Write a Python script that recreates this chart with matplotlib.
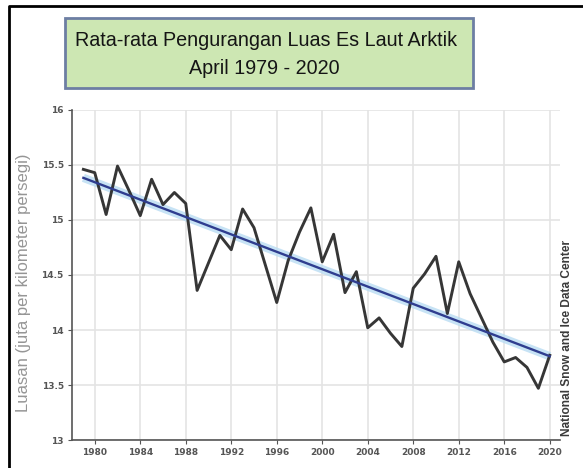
import numpy as np
import matplotlib.pyplot as plt
from matplotlib.patches import Rectangle
from matplotlib.lines import Line2D

# April sea ice extent, million km^2
years = list(range(1979, 2021))
extent = [15.46, 15.43, 15.05, 15.49, 15.27, 15.04, 15.37, 15.14, 15.25, 15.15,
          14.36, 14.61, 14.86, 14.73, 15.10, 14.93, 14.59, 14.25, 14.63, 14.89,
          15.11, 14.62, 14.87, 14.34, 14.53, 14.02, 14.11, 13.97, 13.85, 14.38,
          14.51, 14.67, 14.15, 14.62, 14.33, 14.11, 13.89, 13.71, 13.75, 13.66,
          13.47, 13.77]
xticks = list(range(1980, 2021, 4))
yticks = [13, 13.5, 14, 14.5, 15, 15.5, 16]
ytick_labels = ['13', '13.5', '14', '14.5', '15', '15.5', '16']

sans = ['Liberation Sans', 'DejaVu Sans']

fig = plt.figure(figsize=(5.83, 4.68), dpi=100)
ax = fig.add_axes([0.1235, 0.0598, 0.837, 0.7052])

ax.plot(years, extent, c='#363636', lw=2.1, zorder=3)

# linear trend with a soft halo
coef = np.polyfit(years, extent, 1)
trend = np.polyval(coef, [years[0], years[-1]])
ax.plot([years[0], years[-1]], trend, c='#b9dcf3', lw=6, alpha=0.8, zorder=2,
        solid_capstyle='butt')
ax.plot([years[0], years[-1]], trend, c='#2f3d8f', lw=1.7, zorder=4)

ax.set_xlim(1978, 2020.9)
ax.set_ylim(13, 16)
ax.set_xticks(xticks)
ax.set_yticks(yticks)
ax.set_yticklabels(ytick_labels)
ax.tick_params(labelsize=6.5, colors='#555555', length=3, width=0.8, pad=3)
for lbl in ax.get_xticklabels() + ax.get_yticklabels():
    lbl.set_fontweight('bold')
ax.grid(True, color='#e4e4e4', lw=1.2)
ax.set_axisbelow(True)
for s in ['top', 'right']:
    ax.spines[s].set_visible(False)
for s in ['left', 'bottom']:
    ax.spines[s].set_color('#555555')
    ax.spines[s].set_linewidth(1.2)

ax.set_ylabel('Luasan (juta per kilometer persegi)', fontsize=12,
              color='#959595', family=sans)
ax.yaxis.set_label_coords(-0.083, 0.475)

fig.text(0.972, 1 - 338 / 468, 'National Snow and Ice Data Center', rotation=90,
         fontsize=8.6, fontweight='bold', color='#3a3a3a', ha='center',
         va='center', family=sans)

# title box
fig.patches.append(Rectangle((65 / 583, 1 - 88 / 468), 408 / 583, 70 / 468,
                             transform=fig.transFigure, facecolor='#cde7b3',
                             edgecolor='#6d7ea3', lw=2))
fig.text(266 / 583, 1 - 41 / 468, 'Rata-rata Pengurangan Luas Es Laut Arktik',
         fontsize=14.2, color='#151515', ha='center', va='center', family=sans)
fig.text(264 / 583, 1 - 69 / 468, 'April 1979 - 2020',
         fontsize=14.2, color='#151515', ha='center', va='center', family=sans)

# outer frame
fig.lines.append(Line2D([9 / 583, 9 / 583, 1], [0, 1 - 6 / 468, 1 - 6 / 468],
                        transform=fig.transFigure, color='black', lw=2))

fig.savefig('out.png', dpi=100)
